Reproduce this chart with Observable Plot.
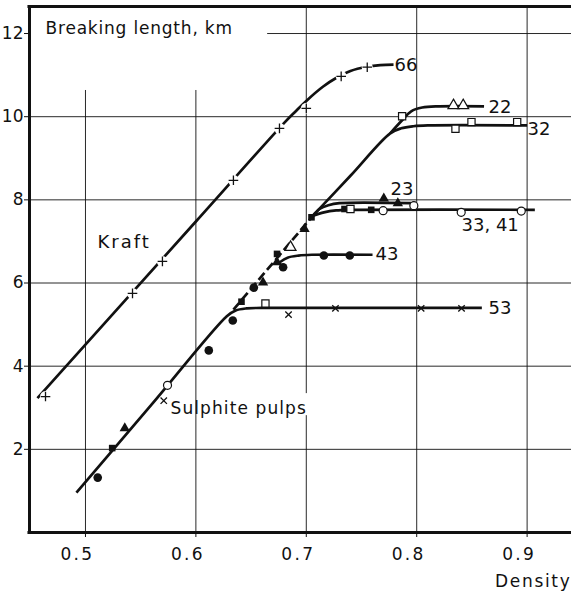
<!DOCTYPE html>
<html><head><meta charset="utf-8">
<script src="https://cdn.jsdelivr.net/npm/d3@7"></script>
<script src="https://cdn.jsdelivr.net/npm/@observablehq/plot@0.6"></script>
<style>body{margin:0;background:#fff} svg{display:block}</style>
</head><body><div id="chart"></div>
<script>
// ---- tick labels ----
const xTicks = [0.5, 0.6, 0.7, 0.8, 0.9];
const yTicks = [2, 4, 6, 8, 10, 12];

// ---- fitted curves (density, breaking length km) ----
const kraftCurve = [[0.4565,3.23],[0.60,7.48],[0.68,9.85],[0.69,10.12],[0.70,10.38],[0.715,10.72],[0.727,10.93],[0.74,11.1],[0.755,11.2],[0.767,11.24],[0.779,11.25]];
const curve53 = [[0.4918,0.96],[0.56,3.08],[0.628,5.20],[0.636,5.34],[0.646,5.39],[0.66,5.40],[0.859,5.40]];
const curveDashed = [[0.634,5.36],[0.706,7.62]];
const curve32 = [[0.706,7.62],[0.74,8.58],[0.776,9.6],[0.786,9.72],[0.797,9.77],[0.81,9.79],[0.90,9.79]];
const curve22 = [[0.776,9.6],[0.787,9.92],[0.795,10.13],[0.805,10.22],[0.82,10.25],[0.861,10.25]];
const curve23 = [[0.706,7.62],[0.712,7.78],[0.72,7.87],[0.73,7.92],[0.795,7.92]];
const curve3341 = [[0.706,7.62],[0.716,7.70],[0.727,7.745],[0.74,7.76],[0.907,7.76]];
const curve43 = [[0.676,6.50],[0.683,6.61],[0.693,6.66],[0.705,6.68],[0.76,6.68]];

// ---- measured points ----
const kraftPlus = [[0.4638,3.27],[0.5426,5.75],[0.5697,6.52],[0.634,8.47],[0.6757,9.72],[0.70,10.20],[0.7316,10.97],[0.7552,11.19]];
const filledCircle = [[0.5111,1.32],[0.6117,4.38],[0.6334,5.10],[0.6525,5.89],[0.679,6.38],[0.7159,6.66],[0.7394,6.66]];
const filledSquare = [[0.5242,2.03],[0.6413,5.55],[0.6735,6.70],[0.7047,7.58],[0.7346,7.78],[0.7588,7.76]];
const filledTriangle = [[0.5356,2.51],[0.6608,6.01],[0.6735,6.50],[0.6984,7.30],[0.7702,8.03],[0.7829,7.92]];
const openCircle = [[0.5743,3.54],[0.7696,7.74],[0.7974,7.86],[0.8403,7.70],[0.8947,7.73]];
const openSquare = [[0.663,5.51],[0.740,7.78],[0.7868,10.01],[0.8351,9.71],[0.8496,9.87],[0.891,9.87]];
const openTriangle = [[0.6857,6.86],[0.8333,10.27],[0.8421,10.27]];
const timesPts = [[0.5709,3.17],[0.6839,5.24],[0.7264,5.39],[0.804,5.39],[0.8406,5.39]];

// ---- labels ----
const curveLabels = [
  {t:"66", x:0.780, y:11.23},
  {t:"22", x:0.865, y:10.22},
  {t:"32", x:0.9004, y:9.69},
  {t:"23", x:0.7763, y:8.25},
  {t:"33, 41", x:0.8406, y:7.38},
  {t:"43", x:0.7627, y:6.69},
  {t:"53", x:0.865, y:5.39}
];
const textLabels = [
  {t:"Breaking length, km", x:0.4638, y:12.12, s:17},
  {t:"Kraft", x:0.5109, y:6.98, s:18},
  {t:"Sulphite pulps", x:0.577, y:2.98, s:17}
];
// letter spacing (px) per text, to match the wide lettering
const spacing = {"Breaking length, km": 0.8, "Kraft": 2, "Sulphite pulps": 1.1, "Density": 1.7,
  "0.5": 2.3, "0.6": 2.3, "0.7": 2.3, "0.8": 2.3, "0.9": 2.3};

// ---- custom symbols (r = half size) ----
const h = s => Math.sqrt(s / Math.PI);
const symSquare = {draw(c,s){const r=h(s);c.moveTo(-r,-r);c.lineTo(r,-r);c.lineTo(r,r);c.lineTo(-r,r);c.closePath();}};
const symTri = {draw(c,s){const r=h(s);c.moveTo(0,-1.155*r);c.lineTo(r,0.577*r);c.lineTo(-r,0.577*r);c.closePath();}};
const symPlus = {draw(c,s){const r=h(s);c.moveTo(-r,0);c.lineTo(r,0);c.moveTo(0,-r);c.lineTo(0,r);}};
const symTimes = {draw(c,s){const r=h(s);c.moveTo(-r,-r);c.lineTo(r,r);c.moveTo(-r,r);c.lineTo(r,-r);}};

const X0 = 0.4493, X1 = 0.9402, Y0 = 0, Y1 = 12.65;
const ink = "#111";
const lw = 2.7;
const fam = "'DejaVu Sans', sans-serif";
const lineOpts = {x: d => d[0], y: d => d[1], stroke: ink, strokeWidth: lw, curve: "catmull-rom", strokeLinecap: "butt"};

const chart = Plot.plot({
  width: 571, height: 593,
  marginLeft: 29, marginRight: 0, marginTop: 6, marginBottom: 61,
  x: {domain: [X0, X1], label: null},
  y: {domain: [Y0, Y1], label: null},
  style: {fontFamily: fam, fontSize: "17px", color: ink, background: "#fff"},
  marks: [
    // grid
    Plot.ruleX([0.5, 0.6], {y1: 0, y2: 10.63, stroke: ink, strokeWidth: 0.9}),
    Plot.ruleX([0.8, 0.9], {y1: Y0, y2: Y1, stroke: ink, strokeWidth: 0.9}),
    Plot.ruleX([0.7], {y1: Y0, y2: 2.81, stroke: ink, strokeWidth: 0.9}),
    Plot.ruleX([0.7], {y1: 3.34, y2: Y1, stroke: ink, strokeWidth: 0.9}),
    Plot.ruleY([2, 4, 6, 8, 10], {x1: X0, x2: X1, stroke: ink, strokeWidth: 0.9}),
    Plot.ruleY([12], {x1: 0.665, x2: X1, stroke: ink, strokeWidth: 0.9}),
    // frame
    Plot.ruleX([X0], {y1: Y0, y2: Y1, stroke: ink, strokeWidth: 3}),
    Plot.ruleY([Y0], {x1: X0 - 0.0014, x2: X1, stroke: ink, strokeWidth: 3}),
    Plot.ruleY([Y1], {x1: X0 - 0.0014, x2: X1, stroke: ink, strokeWidth: 3}),
    // axes: tick marks, then shifted labels
    Plot.axisX({ticks: xTicks, tickFormat: () => "", tickSize: 5, stroke: ink, label: null}),
    Plot.axisX({ticks: xTicks, tickFormat: d => d.toFixed(1), tickSize: 0, tickPadding: 15, fontSize: 17, label: null, dx: -8}),
    Plot.axisY({ticks: yTicks, tickSize: 5, tickPadding: 1, fontSize: 17, stroke: ink, label: null}),
    // curves
    Plot.line(kraftCurve, lineOpts),
    Plot.line(curve53, lineOpts),
    Plot.line(curveDashed, {...lineOpts, curve: "linear", strokeDasharray: "9,4"}),
    Plot.line(curve32, lineOpts),
    Plot.line(curve22, lineOpts),
    Plot.line(curve23, lineOpts),
    Plot.line(curve3341, lineOpts),
    Plot.line(curve43, lineOpts),
    // halos to break lines at crosses
    Plot.dot(kraftPlus, {x: d => d[0], y: d => d[1], r: 5.5, fill: "#fff", stroke: "none"}),
    // markers
    Plot.dot(kraftPlus, {x: d => d[0], y: d => d[1], r: 4.8, symbol: symPlus, fill: "none", stroke: ink, strokeWidth: 1.3}),
    Plot.dot(timesPts, {x: d => d[0], y: d => d[1], r: 3.2, symbol: symTimes, fill: "none", stroke: ink, strokeWidth: 1.3}),
    Plot.dot(filledCircle, {x: d => d[0], y: d => d[1], r: 4.3, fill: ink, stroke: "none"}),
    Plot.dot(filledSquare, {x: d => d[0], y: d => d[1], r: 3.3, symbol: symSquare, fill: ink, stroke: "none"}),
    Plot.dot(filledTriangle, {x: d => d[0], y: d => d[1], r: 5.2, symbol: symTri, fill: ink, stroke: "none"}),
    Plot.dot(openCircle, {x: d => d[0], y: d => d[1], r: 4, fill: "#fff", stroke: ink, strokeWidth: 1.2}),
    Plot.dot(openSquare, {x: d => d[0], y: d => d[1], r: 3.6, symbol: symSquare, fill: "#fff", stroke: ink, strokeWidth: 1.2}),
    Plot.dot(openTriangle, {x: d => d[0], y: d => d[1], r: 5.5, symbol: symTri, fill: "#fff", stroke: ink, strokeWidth: 1.2}),
    // labels
    Plot.text(curveLabels, {x: "x", y: "y", text: "t", textAnchor: "start", lineAnchor: "middle", fontSize: 18, fill: ink}),
    ...textLabels.map(d => Plot.text([d], {x: "x", y: "y", text: "t", textAnchor: "start", lineAnchor: "middle", fontSize: d.s, fill: ink})),
    Plot.text(["Density"], {x: X1, y: -1.18, text: d => d, textAnchor: "end", lineAnchor: "middle", fontSize: 17, fill: ink})
  ]
});
d3.select(chart).selectAll("text").each(function() {
  const s = spacing[this.textContent];
  if (s != null) this.setAttribute("letter-spacing", s + "px");
});
document.getElementById("chart").append(chart);
</script>
</body></html>
